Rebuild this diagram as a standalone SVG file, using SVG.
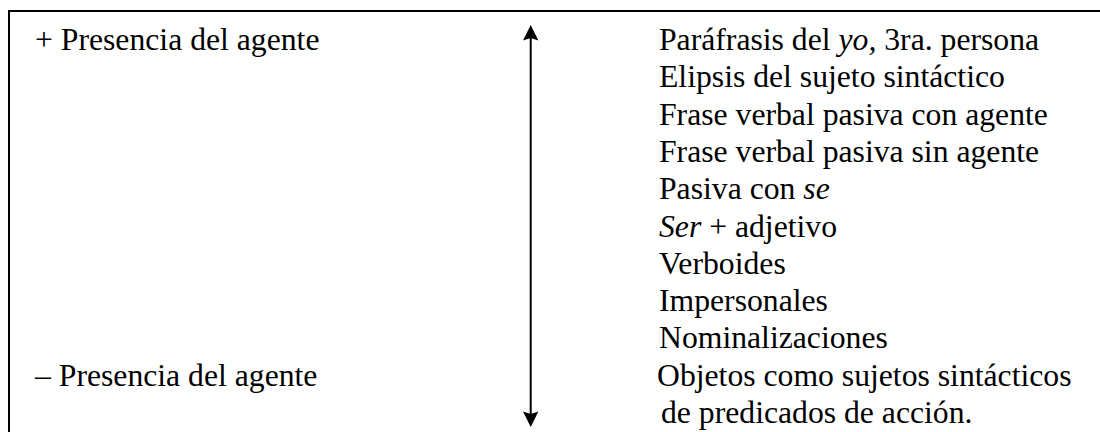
<svg xmlns="http://www.w3.org/2000/svg" width="1100" height="432" viewBox="0 0 1100 432">
  <style>
    .t { font-family: "Liberation Serif", "Times New Roman", serif; font-size: 31.7px; fill: #000; }
    .i { font-style: italic; }
    .frame { stroke: #000; stroke-width: 2; fill: none; }
    .axis { stroke: #000; stroke-width: 2; fill: none; }
    .head { fill: #000; stroke: none; }
  </style>

  <rect width="1100" height="432" fill="#fff"/>

  <!-- open frame: top and left edges only -->
  <g id="frame">
    <path class="frame" d="M9 432 V11 H1100"/>
  </g>

  <!-- scale labels on the left -->
  <g id="more-agent">
    <text class="t" x="35" y="50">+ Presencia del agente</text>
  </g>
  <g id="less-agent">
    <text class="t" x="35" y="385.7">– Presencia del agente</text>
  </g>

  <!-- double-headed vertical scale -->
  <g id="connectors">
    <line class="axis" x1="530.7" y1="34" x2="530.7" y2="417"/>
    <polygon class="head" points="530.7,25 523,40.5 530.7,38 538.4,40.5"/>
    <polygon class="head" points="530.7,427 523,411.5 530.7,414 538.4,411.5"/>
  </g>

  <!-- ordered list of constructions -->
  <g id="constructions">
    <text class="t" x="659" y="50">Paráfrasis del <tspan class="i">yo,</tspan> 3ra. persona</text>
    <text class="t" x="659" y="87.3">Elipsis del sujeto sintáctico</text>
    <text class="t" x="659" y="124.6">Frase verbal pasiva con agente</text>
    <text class="t" x="659" y="161.9">Frase verbal pasiva sin agente</text>
    <text class="t" x="659" y="199.2">Pasiva con <tspan class="i">se</tspan></text>
    <text class="t" x="659" y="236.5"><tspan class="i">Ser</tspan> + adjetivo</text>
    <text class="t" x="659" y="273.8">Verboides</text>
    <text class="t" x="659" y="311.1">Impersonales</text>
    <text class="t" x="659" y="348.4">Nominalizaciones</text>
    <text class="t" x="657" y="385.7">Objetos como sujetos sintácticos</text>
    <text class="t" x="661" y="423">de predicados de acción.</text>
  </g>
</svg>
